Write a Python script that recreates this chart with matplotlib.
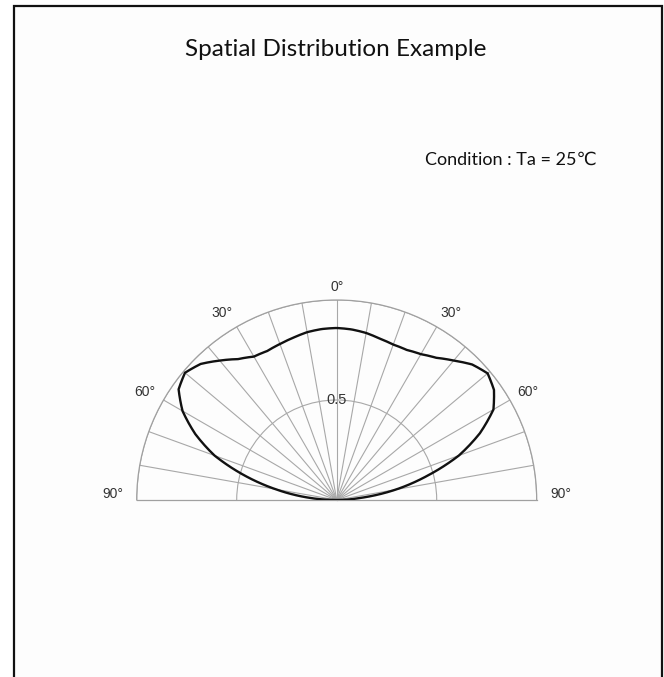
import numpy as np
import matplotlib
matplotlib.use('Agg')
import matplotlib.pyplot as plt
from matplotlib.patches import Rectangle, PathPatch
from matplotlib.path import Path

# relative intensity, every 5 deg (negative = left side)
angles = [-90, -85, -80, -75, -70, -65, -60, -55, -50, -45, -40, -35, -30,
          -25, -20, -15, -10, -5, 0, 5, 10, 15, 20, 25, 30, 35, 40, 45, 50,
          55, 60, 65, 70, 75, 80, 85, 90]
intensity = [0.0, 0.15, 0.31, 0.48, 0.65, 0.78, 0.89, 0.965, 0.99, 0.962,
             0.91, 0.86, 0.828, 0.822, 0.83, 0.84, 0.852, 0.858, 0.86,
             0.856, 0.848, 0.835, 0.827, 0.828, 0.842, 0.868, 0.91, 0.958,
             0.985, 0.96, 0.905, 0.79, 0.65, 0.47, 0.30, 0.12, 0.0]

grid_angles = list(range(-80, 90, 10))  # spokes every 10 deg
ring_values = [0.5, 1.0]
angle_labels = ['90°', '60°', '30°', '0°', '30°', '60°', '90°']
angle_label_pos = [-88.5, -60.5, -31.5, 0, 31.5, 60.5, 88.5]
angle_label_r = [1.12, 1.10, 1.095, 1.065, 1.095, 1.10, 1.12]

title = 'Spatial Distribution Example'
condition = 'Condition : Ta = 25\u2103'

W, H = 664, 677
fig = plt.figure(figsize=(W / 100, H / 100), dpi=100)
fig.patch.set_facecolor('white')

# outer frame (open at the bottom of the picture)
fig.add_artist(Rectangle((14 / W, -0.02), (662 - 14) / W, 1 - 6 / H + 0.02,
                         transform=fig.transFigure, fill=True, fc='#fdfdfd',
                         ec='#111111', lw=1.6, zorder=0))

fig.text(336 / W, 1 - 50 / H, title, ha='center', va='center', fontsize=17.5,
         family=['Lato', 'DejaVu Sans'], color='#111111')
fig.text(597 / W, 1 - 160 / H, condition, ha='right', va='center', fontsize=13,
         family=['Lato', 'DejaVu Sans'], color='#111111')

# polar half plane: centre at (336.7, 500) px, radius 200 px
cx, cy, R = 336.7, 500, 200
ax = fig.add_axes([(cx - R) / W, (H - cy - R / 2) / H, 2 * R / W, 2 * R / H],
                  projection='polar')
ax.set_theta_zero_location('N')
ax.set_theta_direction(-1)
ax.set_thetamin(-90)
ax.set_thetamax(90)
ax.set_rlim(0, 1)
ax.patch.set_alpha(0)

ax.set_thetagrids(grid_angles, labels=[''] * len(grid_angles))
ax.set_rgrids(ring_values, labels=[''] * len(ring_values))
ax.grid(True, color='#a8a8a8', lw=0.8)
for s in ['polar', 'start', 'end']:
    ax.spines[s].set_color('#a0a0a0')
    ax.spines[s].set_linewidth(0.9)
ax.spines['inner'].set_visible(False)
ax.tick_params(axis='both', length=0, pad=0)

# curve: path in (theta, r) so the polar transform bends each segment
curve = Path(np.column_stack([np.radians(angles), intensity]),
             _interpolation_steps=12)
ax.add_patch(PathPatch(curve, fill=False, ec='#111111', lw=1.7,
                       joinstyle='round', zorder=5))

for lab, a, r in zip(angle_labels, angle_label_pos, angle_label_r):
    ax.text(np.radians(a), r, lab, ha='center', va='center', fontsize=10,
            family='Liberation Sans', color='#333333', clip_on=False)
ax.text(0, 0.5, '0.5', ha='center', va='center', fontsize=10.5,
        family='Liberation Sans', color='#333333')

fig.savefig('out.png', dpi=100, facecolor='white')
